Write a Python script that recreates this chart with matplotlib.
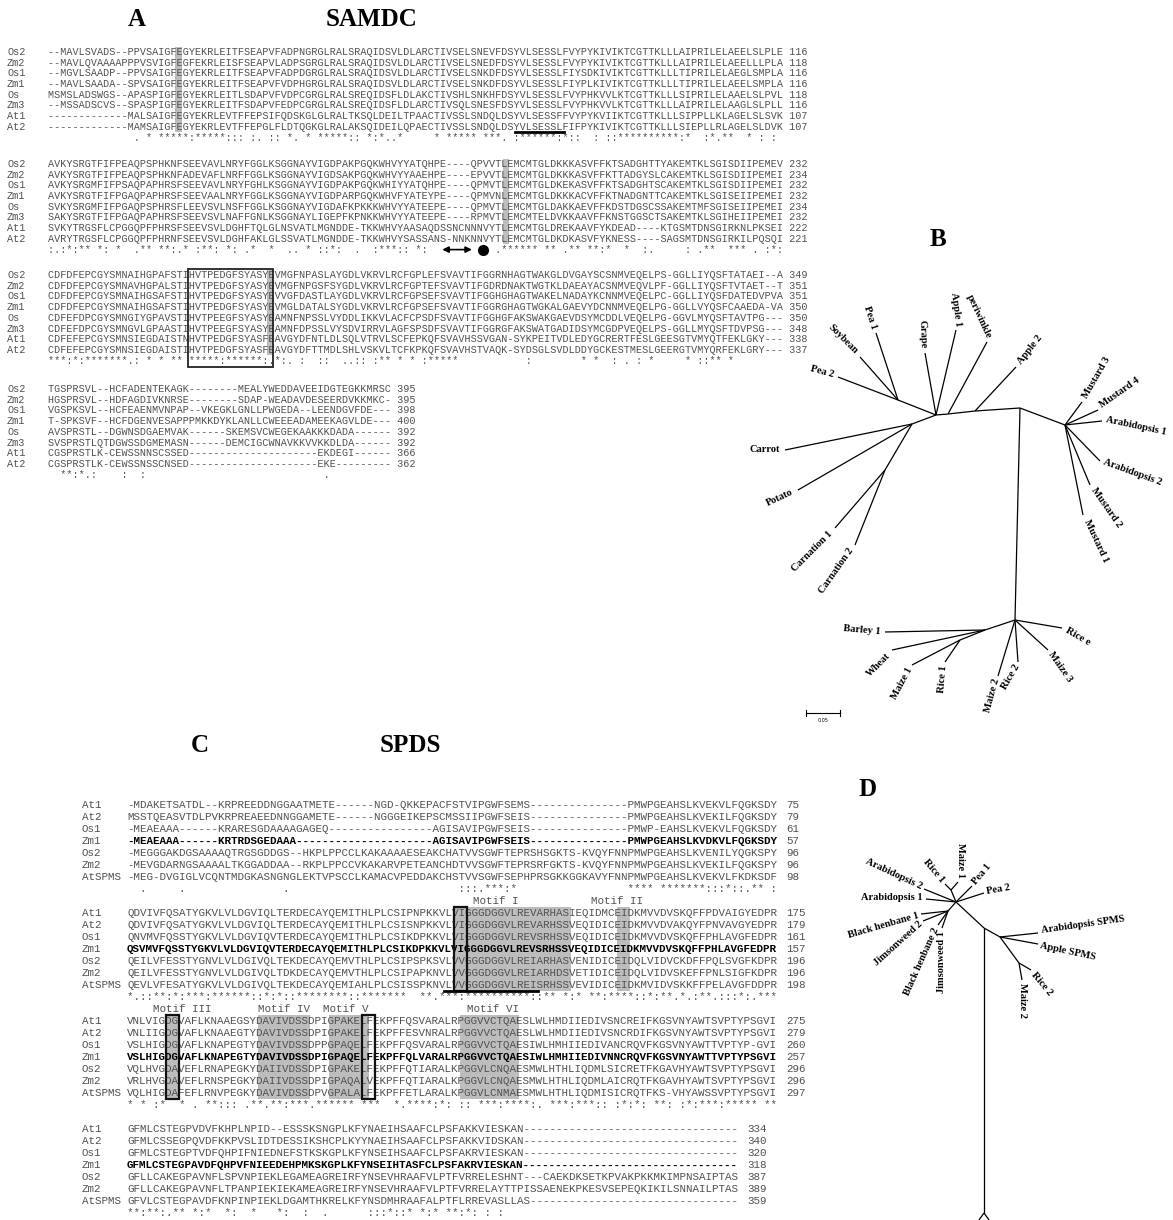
import matplotlib
matplotlib.use('Agg')
import matplotlib.pyplot as plt
from matplotlib.patches import Rectangle

# ---------------- panel A : SAMDC alignment ----------------
a_names = ['Os2', 'Zm2', 'Os1', 'Zm1', 'Os', 'Zm3', 'At1', 'At2']

a_block1 = [
    "--MAVLSVADS--PPVSAIGFEGYEKRLEITFSEAPVFADPNGRGLRALSRAQIDSVLDLARCTIVSELSNEVFDSYVLSESSLFVYPYKIVIKTCGTTKLLLAIPRILELAEELSLPLE",
    "--MAVLQVAAAAPPPVSVIGFEGFEKRLEISFSEAPVLADPSGRGLRALSRAQIDSVLDLARCTIVSELSNEDFDSYVLSESSLFVYPYKIVIKTCGTTKLLLAIPRILELAEELLLPLA",
    "--MGVLSAADP--PPVSAIGFEGYEKRLEITFSEAPVFADPDGRGLRALSRAQIDSVLDLARCTIVSELSNKDFDSYVLSESSLFIYSDKIVIKTCGTTKLLLTIPRILELAEGLSMPLA",
    "--MAVLSAADA--SPVSAIGFEGYEKRLEITFSEAPVFVDPHGRGLRALSRAQIDSVLDLARCTIVSELSNKDFDSYVLSESSLFIYPLKIVIKTCGTTKLLLTIPRILELAEELSMPLA",
    "MSMSLADSWGS--APASPIGFEGYEKRLEITLSDAPVFVDPCGRGLRALSREQIDSFLDLAKCTIVSHLSNKHFDSYVLSESSLFVYPHKVVLKTCGTTKLLLSIPRILELAAELSLPVL",
    "--MSSADSCVS--SPASPIGFEGYEKRLEITFSDAPVFEDPCGRGLRALSREQIDSFLDLARCTIVSQLSNESFDSYVLSESSLFVYPHKVVLKTCGTTKLLLAIPRILELAAGLSLPLL",
    "-------------MALSAIGFEGYEKRLEVTFFEPSIFQDSKGLGLRALTKSQLDEILTPAACTIVSSLSNDQLDSYVLSESSFFVYPYKVIIKTCGTTKLLLSIPPLLKLAGELSLSVK",
    "-------------MAMSAIGFEGYEKRLEVTFFEPGLFLDTQGKGLRALAKSQIDEILQPAECTIVSSLSNDQLDSYVLSESSLFIFPYKIVIKTCGTTKLLLSIEPLLRLAGELSLDVK",
]
a_block2 = [
    "AVKYSRGTFIFPEAQPSPHKNFSEEVAVLNRYFGGLKSGGNAYVIGDPAKPGQKWHVYYATQHPE----QPVVTLEMCMTGLDKKKASVFFKTSADGHTTYAKEMTKLSGISDIIPEMEV",
    "AVKYSRGTFIFPEAQPSPHKNFADEVAFLNRFFGGLKSGGNAYVIGDSAKPGQKWHVYYAAEHPE----EPVVTLEMCMTGLDKKKASVFFKTTADGYSLCAKEMTKLSGISDIIPEMEI",
    "AVKYSRGMFIFPSAQPAPHRSFSEEVAVLNRYFGHLKSGGNAYVIGDPAKPGQKWHIYYATQHPE----QPMVTLEMCMTGLDKEKASVFFKTSADGHTSCAKEMTKLSGISDIIPEMEI",
    "AVKYSRGTFIFPGAQPAPHRSFSEEVAALNRYFGGLKSGGNAYVIGDPARPGQKWHVFYATEYPE----QPMVNLEMCMTGLDKKKACVFFKTNADGNTTCAKEMTKLSGISEIIPEMEI",
    "SVKYSRGMFIFPGAQPSPHRSFLEEVSVLNSFFGGLKSGGNAYVIGDAFKPKKKWHVYYATEEPE----QPMVTLEMCMTGLDAKKAEVFFKDSTDGSCSSAKEMTMFSGISEIIPEMEI",
    "SAKYSRGTFIFPGAQPAPHRSFSEEVSVLNAFFGNLKSGGNAYLIGEPFKPNKKWHVYYATEEPE----RPMVTLEMCMTELDVKKAAVFFKNSTGGSCTSAKEMTKLSGIHEIIPEMEI",
    "SVKYTRGSFLCPGGQPFPHRSFSEEVSVLDGHFTQLGLNSVATLMGNDDE-TKKWHVYAASAQDSSNCNNNVYTLEMCMTGLDREKAAVFYKDEAD----KTGSMTDNSGIRKNLPKSEI",
    "AVRYTRGSFLCPGGQPFPHRNFSEEVSVLDGHFAKLGLSSVATLMGNDDE-TKKWHVYSASSANS-NNKNNVYTLEMCMTGLDKDKASVFYKNESS----SAGSMTDNSGIRKILPQSQI",
]
a_block3 = [
    "CDFDFEPCGYSMNAIHGPAFSTIHVTPEDGFSYASYEVMGFNPASLAYGDLVKRVLRCFGPLEFSVAVTIFGGRNHAGTWAKGLDVGAYSCSNMVEQELPS-GGLLIYQSFTATAEI--A",
    "CDFDFEPCGYSMNAVHGPALSTIHVTPEDGFSYASYEVMGFNPGSFSYGDLVKRVLRCFGPTEFSVAVTIFGDRDNAKTWGTKLDAEAYACSNMVEQVLPF-GGLLIYQSFTVTAET--T",
    "CDFDFEPCGYSMNAIHGSAFSTIHVTPEDGFSYASYEVVGFDASTLAYGDLVKRVLRCFGPSEFSVAVTIFGGHGHAGTWAKELNADAYKCNNMVEQELPC-GGLLIYQSFDATEDVPVA",
    "CDFDFEPCGYSMNAIHGSAFSTIHVTPEDGFSYASYEVMGLDATALSYGDLVKRVLRCFGPSEFSVAVTIFGGRGHAGTWGKALGAEVYDCNNMVEQELPG-GGLLVYQSFCAAEDA-VA",
    "CDFEFDPCGYSMNGIYGPAVSTIHVTPEEGFSYASYEAMNFNPSSLVYDDLIKKVLACFCPSDFSVAVTIFGGHGFAKSWAKGAEVDSYMCDDLVEQELPG-GGVLMYQSFTAVTPG---",
    "CDFEFDPCGYSMNGVLGPAASTIHVTPEEGFSYASYEAMNFDPSSLVYSDVIRRVLAGFSPSDFSVAVTIFGGRGFAKSWATGADIDSYMCGDPVEQELPS-GGLLMYQSFTDVPSG---",
    "CDFEFEPCGYSMNSIEGDAISTNHVTPEDGFSYASFEAVGYDFNTLDLSQLVTRVLSCFEPKQFSVAVHSSVGAN-SYKPEITVDLEDYGCRERTFESLGEESGTVMYQTFEKLGKY---",
    "CDFEFEPCGYSMNSIEGDAISTIHVTPEDGFSYASFEAVGYDFTTMDLSHLVSKVLTCFKPKQFSVAVHSTVAQK-SYDSGLSVDLDDYGCKESTMESLGEERGTVMYQRFEKLGRY---",
]
a_block4 = [
    "TGSPRSVL--HCFADENTEKAGK--------MEALYWEDDAVEEIDGTEGKKMRSC",
    "HGSPRSVL--HDFAGDIVKNRSE--------SDAP-WEADAVDESEERDVKKMKC-",
    "VGSPKSVL--HCFEAENMVNPAP--VKEGKLGNLLPWGEDA--LEENDGVFDE---",
    "T-SPKSVF--HCFDGENVESAPPPMKKDYKLANLLCWEEEADAMEEKAGVLDE---",
    "AVSPRSTL--DGWNSDGAEMVAK------SKEMSVCWEGEKAAKKKDADA------",
    "SVSPRSTLQTDGWSSDGMEMASN------DEMCIGCWNAVKKVVKKDLDA------",
    "CGSPRSTLK-CEWSSNNSCSSED---------------------EKDEGI------",
    "CGSPRSTLK-CEWSSNSSCNSED---------------------EKE---------",
]
a_blocks = [a_block1, a_block2, a_block3, a_block4]
a_numbers = [
    [116, 118, 116, 116, 118, 116, 107, 107],
    [232, 234, 232, 232, 234, 232, 222, 221],
    [349, 351, 351, 350, 350, 348, 338, 337],
    [395, 395, 398, 400, 392, 392, 366, 362],
]
a_consensus = [
    ("          " "    . * **" "***:*****:" ":: :. :: *" ". * *****:" ": *:*..*  "
     "   * *****" " ***. :***" "***:*::  :" " ::*******" "***:*  :*." "**  * : : "),
    (":.:*:** *:" " *  .** **" ":.* :**: *" ": .*  *  ." ". * ::*:  " ".  :***:: "
     "*:        " "   .******" " ** .** **" ":*  *  :. " "    : .** " " *** . :*:"),
    ("***:*:****" "***.: * * " "** *****:*" "*****:.*:." " :  ::  .." ":: :** * *"
     " :*****   " "        : " "       * *" "  : . : * " "    * ::**" " *        "),
    ("  **:*.:  " "  :  :    " "          " "          " "     .    "),
]
a_shaded_cols = [21, 75, 36, None]      # highlighted E column in each block

# ---------------- panel C : SPDS alignment ----------------
c_names = ['At1', 'At2', 'Os1', 'Zm1', 'Os2', 'Zm2', 'AtSPMS']
c_block1 = [
    "-MDAKETSATDL--KRPREEDDNGGAATMETE------NGD-QKKEPACFSTVIPGWFSEMS---------------PMWPGEAHSLKVEKVLFQGKSDY",
    "MSSTQEASVTDLPVKRPREAEEDNNGGAMETE------NGGGEIKEPSCMSSIIPGWFSEIS---------------PMWPGEAHSLKVEKILFQGKSDY",
    "-MEAEAAA------KRARESGDAAAAGAGEQ----------------AGISAVIPGWFSEIS---------------PMWP-EAHSLKVEKVLFQGKSDY",
    "-MEAEAAA------KRTRDSGEDAAA---------------------AGISAVIPGWFSEIS---------------PMWPGEAHSLKVDKVLFQGKSDY",
    "-MEGGGAKDGSAAAAQTRGSGDDGS--HKPLPPCCLKAKAAAAESEAKCHATVVSGWFTEPRSHSGKTS-KVQYFNNPMWPGEAHSLKVENILYQGKSPY",
    "-MEVGDARNGSAAAALTKGGADDAA--RKPLPPCCVKAKARVPETEANCHDTVVSGWFTEPRSRFGKTS-KVQYFNNPMWPGEAHSLKVEKILFQGKSPY",
    "-MEG-DVGIGLVCQNTMDGKASNGNGLEKTVPSCCLKAMACVPEDDAKCHSTVVSGWFSEPHPRSGKKGGKAVYFNNPMWPGEAHSLKVEKVLFKDKSDF",
]
c_block2 = [
    "QDVIVFQSATYGKVLVLDGVIQLTERDECAYQEMITHLPLCSIPNPKKVLVIGGGDGGVLREVARHASIEQIDMCEIDKMVVDVSKQFFPDVAIGYEDPR",
    "QDVIVFQSATYGKVLVLDGVIQLTERDECAYQEMITHLPLCSISNPKKVLVIGGGDGGVLREVARHSSVEQIDICEIDKMVVDVAKQYFPNVAVGYEDPR",
    "QNVMVFQSSTYGKVLVLDGVIQVTERDECAYQEMITHLPLCSIKDPKKVLVIGGGDGGVLREVSRHSSVEQIDICEIDKMVVDVSKQFFPHLAVGFEDPR",
    "QSVMVFQSSTYGKVLVLDGVIQVTERDECAYQEMITHLPLCSIKDPKKVLVIGGGDGGVLREVSRHSSVEQIDICEIDKMVVDVSKQFFPHLAVGFEDPR",
    "QEILVFESSTYGNVLVLDGIVQLTEKDECAYQEMVTHLPLCSIPSPKSVLVVGGGDGGVLREIARHASVENIDICEIDQLVIDVCKDFFPQLSVGFKDPR",
    "QEILVFESSTYGNVLVLDGIVQLTDKDECAYQEMVTHLPLCSIPAPKNVLVVGGGDGGVLREIARHDSVETIDICEIDQLVIDVSKEFFPNLSIGFKDPR",
    "QEVLVFESATYGKVLVLDGIVQLTEKDECAYQEMIAHLPLCSISSPKNVLVVGGGDGGVLREISRHSSVEVIDICEIDKMVIDVSKKFFPELAVGFDDPR",
]
c_block3 = [
    "VNLVIGDGVAFLKNAAEGSYDAVIVDSSDPIGPAKELFEKPFFQSVARALRPGGVVCTQAESLWLHMDIIEDIVSNCREIFKGSVNYAWTSVPTYPSGVI",
    "VNLIIGDGVAFLKNAAEGTYDAVIVDSSDPIGPAKELFEKPFFESVNRALRPGGVVCTQAESLWLHMDIIEDIVSNCRDIFKGSVNYAWTSVPTYPSGVI",
    "VSLHIGDGVAFLKNAPEGTYDAVIVDSSDPPGPAQELFEKPFFQSVARALRPGGVVCTQAESIWLHMHIIEDIVANCRQVFKGSVNYAWTTVPTYP-GVI",
    "VSLHIGDGVAFLKNAPEGTYDAVIVDSSDPIGPAQELFEKPFFQLVARALRPGGVVCTQAESIWLHMHIIEDIVNNCRQVFKGSVNYAWTTVPTYPSGVI",
    "VQLHVGDAVEFLRNAPEGKYDAIIVDSSDPIGPAKELFEKPFFQTIARALKPGGVLCNQAESMWLHTHLIQDMLSICRETFKGAVHYAWTSVPTYPSGVI",
    "VRLHVGDAVEFLRNSPEGKYDAIIVDSSDPIGPAQALVEKPFFQTIARALKPGGVLCNQAESMWLHTHLIQDMLAICRQTFKGAVHYAWTSVPTYPSGVI",
    "VQLHIGDAFEFLRNVPEGKYDAVIVDSSDPVGPALALFEKPFFETLARALKPGGVLCNMAESMWLHTHLIQDMISICRQTFKS-VHYAWSSVPTYPSGVI",
]
c_block4 = [
    "GFMLCSTEGPVDVFKHPLNPID--ESSSKSNGPLKFYNAEIHSAAFCLPSFAKKVIESKAN---------------------------------",
    "GFMLCSSEGPQVDFKKPVSLIDTDESSIKSHCPLKYYNAEIHSAAFCLPSFAKKVIDSKAN---------------------------------",
    "GFMLCSTEGPTVDFQHPIFNIEDNEFSTKSKGPLKFYNSEIHSAAFCLPSFAKRVIESKAN---------------------------------",
    "GFMLCSTEGPAVDFQHPVFNIEEDEHPMKSKGPLKFYNSEIHTASFCLPSFAKRVIESKAN---------------------------------",
    "GFLLCAKEGPAVNFLSPVNPIEKLEGAMEAGREIRFYNSEVHRAAFVLPTFVRRELESHNT---CAEKDKSETKPVAKPKKMKIMPNSAIPTAS",
    "GFLLCAKEGPAVNFLTPANPIEKIEKAMEAGREIRFYNSEVHRAAFVLPTFVRRELAYTTPISSAENEKPKESVSEPEQKIKILSNNAILPTAS",
    "GFVLCSTEGPAVDFKNPINPIEKLDGAMTHKRELKFYNSDMHRAAFALPTFLRREVASLLAS--------------------------------",
]
c_blocks = [c_block1, c_block2, c_block3, c_block4]
c_numbers = [
    [75, 79, 61, 57, 96, 96, 98],
    [175, 179, 161, 157, 196, 196, 198],
    [275, 279, 260, 257, 296, 296, 297],
    [334, 340, 320, 318, 387, 389, 359],
]
c_consensus = [
    ("  .     . " "          " "    .     " "          " "          " " :::.***:*"
     "          " "       ***" "* *******:" "::*::.** :"),
    ("*.::**:*:*" "**:******:" ":*:*::****" "****::****" "***  **.**" "*:********"
     "**::** *:*" " **:****::" "*:**.*.:**" ".:::*:.***"),
    ("* * :*  * " ". **::: .*" "*.**:***.*" "***** *** " " *.****:*:" " :: ***:**"
     "**:. ***:*" "**:: :*:*:" " **: :*:**" "*:***** **"),
    ("**:**:.** " "*:*  *:  *" "   *:  :  " ".      :::" "*::* *:* *" "*:*: : :  "),
]
# motif labels written under block n (label text, start column)
c_motif_labels = {0: [("Motif I", 53), ("Motif II", 71)],
                  1: [("Motif III", 4), ("Motif IV", 20), ("Motif V", 30), ("Motif VI", 52)]}
# shaded motif columns (block, first col, last col)
c_shading = [(1, 50, 67), (1, 75, 76),
             (2, 6, 7), (2, 20, 27), (2, 31, 36), (2, 51, 59)]
c_boxes = [(1, 50, 51), (2, 6, 7), (2, 36, 37)]

# ---------------- panel B tree (SAMDC) ----------------
b_branches = [
    # dicot backbone
    (898, 400, 936, 415), (936, 415, 948, 414), (948, 414, 975, 411), (975, 411, 1020, 408),
    (898, 400, 876, 333), (898, 400, 860, 357), (898, 400, 838, 377),
    (936, 415, 925, 353), (936, 415, 956, 330), (948, 414, 987, 342), (975, 411, 1016, 367),
    (936, 415, 912, 424), (912, 424, 785, 450), (912, 424, 798, 490),
    (912, 424, 885, 470), (885, 470, 835, 528), (885, 470, 855, 545),
    # crucifer clade
    (1020, 408, 1065, 425),
    (1065, 425, 1082, 402), (1065, 425, 1098, 410), (1065, 425, 1102, 421),
    (1065, 425, 1100, 461), (1065, 425, 1090, 485), (1065, 425, 1083, 515),
    # monocot clade
    (1020, 408, 1015, 620),
    (1015, 620, 985, 630), (985, 630, 885, 632), (985, 630, 892, 650),
    (985, 630, 960, 640), (960, 640, 912, 665), (960, 640, 945, 662),
    (1015, 620, 998, 676), (1015, 620, 1018, 662),
    (1015, 620, 1048, 650), (1015, 620, 1062, 628),
]
b_labels = [
    ("Pea 1", 874, 329, -72, 'right'), ("Soybean", 856, 352, -45, 'right'),
    ("Pea 2", 834, 375, -15, 'right'), ("Grape", 923, 348, -88, 'right'),
    ("Apple 1", 958, 326, -82, 'right'), ("periwinkle", 989, 338, -65, 'right'),
    ("Apple 2", 1019, 363, 52, 'left'), ("Carrot", 780, 450, 0, 'right'),
    ("Potato", 793, 492, 25, 'right'), ("Carnation 1", 831, 532, 45, 'right'),
    ("Carnation 2", 851, 549, 55, 'right'), ("Mustard 3", 1085, 398, 60, 'left'),
    ("Mustard 4", 1101, 406, 35, 'left'), ("Arabidopsis 1", 1106, 420, -12, 'left'),
    ("Arabidopsis 2", 1104, 462, -20, 'left'), ("Mustard 2", 1093, 489, -55, 'left'),
    ("Mustard 1", 1086, 520, -65, 'left'), ("Barley 1", 881, 632, -5, 'right'),
    ("Wheat", 889, 654, 45, 'right'), ("Maize 1", 910, 668, 62, 'right'),
    ("Rice 1", 944, 665, 85, 'right'), ("Maize 2", 997, 679, 75, 'right'),
    ("Rice 2", 1018, 665, 60, 'right'), ("Maize 3", 1050, 653, -55, 'left'),
    ("Rice e", 1066, 630, -30, 'left'),
]
b_scale = (806, 840, 713, "0.05")

# ---------------- panel D tree (SPDS) ----------------
d_branches = [
    (956, 902, 951, 890), (951, 890, 945, 884), (951, 890, 958, 882),
    (956, 902, 972, 886), (956, 902, 984, 893),
    (956, 902, 924, 889), (956, 902, 926, 899),
    (956, 902, 948, 911), (948, 911, 921, 914), (948, 911, 923, 921),
    (948, 911, 938, 925), (948, 911, 942, 928),
    (956, 902, 984, 928), (984, 928, 1000, 937), (1000, 937, 1019, 963),
    (1000, 937, 1038, 933), (1000, 937, 1038, 944),
    (1019, 963, 1031, 970), (1019, 963, 1022, 980),
    (984, 928, 984, 1213), (984, 1213, 979, 1220), (984, 1213, 989, 1220),
]
d_labels = [
    ("Rice 1", 943, 881, -50, 'right'), ("Maize 1", 960, 878, -90, 'right'),
    ("Pea 1", 974, 883, 50, 'left'), ("Pea 2", 987, 892, 10, 'left'),
    ("Arabidopsis 2", 922, 887, -25, 'right'), ("Arabidopsis 1", 923, 898, 0, 'right'),
    ("Black henbane 1", 919, 915, 16, 'right'), ("Jimsonweed 2", 921, 923, 42, 'right'),
    ("Black henbane 2", 936, 928, 66, 'right'), ("Jimsonweed 1", 942, 931, 90, 'right'),
    ("Arabidopsis SPMS", 1041, 931, 8, 'left'), ("Apple SPMS", 1040, 946, -12, 'left'),
    ("Rice 2", 1033, 973, -50, 'left'), ("Maize 2", 1023, 983, -90, 'left'),
]

# ---------------- drawing ----------------
W, H = 1173, 1220
fig = plt.figure(figsize=(W / 100, H / 100), dpi=100)
ax = fig.add_axes([0, 0, 1, 1])
ax.set_xlim(0, W)
ax.set_ylim(H, 0)
ax.axis('off')

MONO = 'Liberation Mono'
SERIF = 'Liberation Serif'
TXT = '#505050'
SHADE = '#bdbdbd'


def fsize(cw):
    # courier-type glyph advance is 0.6 em; convert px -> pt
    return cw / 0.6 * 72 / 100


def seq_text(x, y, s, fs, bold=False, color=TXT):
    ax.text(x, y, s, family=MONO, size=fs, color='black' if bold else color,
            weight='bold' if bold else 'normal', ha='left', va='center', zorder=3)


# panel A
ax_x_name, ax_x0, ax_cw, ax_dy = 7, 48, 6.07, 10.7
a_y0 = [52, 164, 275, 389]
fsA = fsize(ax_cw)
for b, rows in enumerate(a_blocks):
    y0 = a_y0[b]
    for i, s in enumerate(rows):
        y = y0 + i * ax_dy
        seq_text(ax_x_name, y, a_names[i], fsA)
        seq_text(ax_x0, y, s + ' ' + str(a_numbers[b][i]), fsA)
    seq_text(ax_x0, y0 + 8 * ax_dy, a_consensus[b], fsA)
    col = a_shaded_cols[b]
    if col is not None:
        ax.add_patch(Rectangle((ax_x0 + col * ax_cw, y0 - ax_dy / 2), ax_cw, 8 * ax_dy,
                               color=SHADE, lw=0, zorder=1))

# black box around HVTPEDGFSYASYE motif in block 3
y0 = a_y0[2]
ax.add_patch(Rectangle((ax_x0 + 23 * ax_cw, y0 - ax_dy / 2 - 1), 14 * ax_cw, 9 * ax_dy + 2,
                       fill=False, ec='#222222', lw=1.3, zorder=4))
# underline in block 1 (At2 row)
yb = a_y0[0] + 7 * ax_dy + ax_dy / 2
ax.plot([ax_x0 + 77 * ax_cw, ax_x0 + 85 * ax_cw], [yb, yb], color='black', lw=2, zorder=4)
# arrow and dot in block 2 consensus line
yc = a_y0[1] + 8 * ax_dy
ax.annotate('', xy=(ax_x0 + 64.5 * ax_cw, yc), xytext=(ax_x0 + 70.3 * ax_cw, yc),
            arrowprops=dict(arrowstyle='<|-|>', color='black', lw=1.2, mutation_scale=9), zorder=4)
ax.plot([ax_x0 + 71.7 * ax_cw], [yc], 'o', color='black', ms=7, zorder=4)

# panel C
cx_name, cx0, c_cw, c_dy = 82, 127, 6.53, 12
c_y0 = [805, 913, 1021, 1129]
fsC = fsize(c_cw)
for b, rows in enumerate(c_blocks):
    y0 = c_y0[b]
    for i, s in enumerate(rows):
        y = y0 + i * c_dy
        seq_text(cx_name, y, c_names[i], fsC)
        seq_text(cx0, y, s, fsC, bold=(c_names[i] == 'Zm1'))
        seq_text(cx0 + (len(s) + 1) * c_cw, y, str(c_numbers[b][i]), fsC)
    seq_text(cx0, y0 + 7 * c_dy, c_consensus[b], fsC)
    for lab, col in c_motif_labels.get(b, []):
        seq_text(cx0 + col * c_cw, y0 + 8 * c_dy, lab, fsC)

for b, c1, c2 in c_shading:
    y0 = c_y0[b]
    ax.add_patch(Rectangle((cx0 + c1 * c_cw, y0 - c_dy / 2), (c2 - c1 + 1) * c_cw, 7 * c_dy,
                           color=SHADE, lw=0, zorder=1))
for b, c1, c2 in c_boxes:
    y0 = c_y0[b]
    ax.add_patch(Rectangle((cx0 + c1 * c_cw, y0 - c_dy / 2), (c2 - c1 + 1) * c_cw, 7 * c_dy,
                           fill=False, ec='#111111', lw=1.6, zorder=4))
yu = c_y0[1] + 6 * c_dy + c_dy / 2
ax.plot([cx0 + 48.5 * c_cw, cx0 + 63 * c_cw], [yu, yu], color='black', lw=2, zorder=4)

# titles
title_kw = dict(family=SERIF, weight='bold', size=18, ha='center', va='center', color='black')
ax.text(137, 20, 'A', **title_kw)
ax.text(372, 20, 'SAMDC', **title_kw)
ax.text(938, 240, 'B', **title_kw)
ax.text(200, 745, 'C', **title_kw)
ax.text(410, 745, 'SPDS', **title_kw)
ax.text(868, 789, 'D', **title_kw)

# trees
for x1, y1, x2, y2 in b_branches + d_branches:
    ax.plot([x1, x2], [y1, y2], color='black', lw=0.9, solid_capstyle='butt')
for lab, x, y, rot, ha in b_labels + d_labels:
    ax.text(x, y, lab, family=SERIF, weight='bold', size=7.5, rotation=rot,
            rotation_mode='anchor', ha=ha, va='center', color='black')

sx1, sx2, sy, slab = b_scale
ax.plot([sx1, sx2], [sy, sy], color='black', lw=0.8)
ax.plot([sx1, sx1], [sy - 3, sy + 3], color='black', lw=0.8)
ax.plot([sx2, sx2], [sy - 3, sy + 3], color='black', lw=0.8)
ax.text((sx1 + sx2) / 2, sy + 8, slab, family='DejaVu Sans', size=3.5, ha='center', va='center')

fig.savefig('out.png', dpi=100)
